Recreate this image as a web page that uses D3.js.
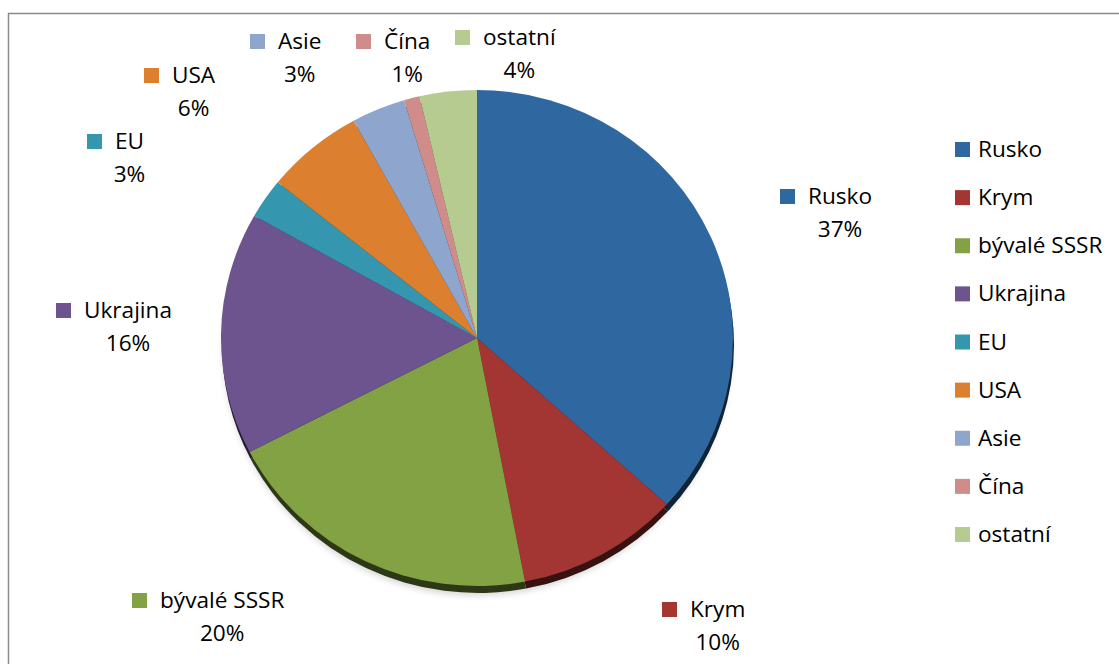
<!DOCTYPE html>
<html><head><meta charset="utf-8">
<script src="https://cdn.jsdelivr.net/npm/d3@7"></script>
<style>body{margin:0;background:#fff}</style>
</head><body><svg id="chart" width="1119" height="664"></svg>
<script>
const categories = ["Rusko","Krym","bývalé SSSR","Ukrajina","EU","USA","Asie","Čína","ostatní"];
const values = [36.7,10.3,20.4,15.8,2.6,6.2,3.4,1.0,3.6];
const colors = ["#2F68A0","#A33533","#83A244","#6D548E","#3497AF","#DC7F2F","#8EA6CE","#D08B8B","#B5CB8F"];
// layout of data labels: left x of the name text, centre y of the first line
const labelLayout = [[808,196],[690,609],[160,600],[84,310],[115,141],[172,75],[278,41],[384,41],[483,37]];

const svg = d3.select("#chart");
const W = 1119, H = 664;
const font = "'Open Sans', 'Noto Sans', sans-serif";
const fs = 22.6;

// chart frame
svg.append("rect").attr("x",8.5).attr("y",13.5).attr("width",W+20).attr("height",H+20)
  .attr("fill","#fff").attr("stroke","#8a8a8a").attr("stroke-width",1.5);

const cx = 477, cy = 338, R = 256, ky = 248/256, depth = 7;
const pie = d3.pie().sort(null).value(d => d);
const arcs = pie(values);
const arc = d3.arc().innerRadius(0).outerRadius(R);

// soft shadow
const defs = svg.append("defs");
defs.append("filter").attr("id","blur").attr("x","-10%").attr("y","-10%").attr("width","120%").attr("height","120%")
  .append("feGaussianBlur").attr("stdDeviation",3);
svg.append("ellipse").attr("cx",cx).attr("cy",cy+depth+3).attr("rx",R-2).attr("ry",R*ky)
  .attr("fill","#000").attr("opacity",0.15).attr("filter","url(#blur)");

// depth (side of 3D pie)
const gDepth = svg.append("g").attr("transform",`translate(${cx+1},${cy+depth}) scale(1,${ky})`);
gDepth.selectAll("path").data(arcs).join("path")
  .attr("d", arc)
  .attr("fill", (d,i) => d3.color(colors[i]).darker(3).formatHex());

// top face
const gTop = svg.append("g").attr("transform",`translate(${cx},${cy}) scale(1,${ky})`);
gTop.selectAll("path").data(arcs).join("path")
  .attr("d", arc)
  .attr("fill", (d,i) => colors[i]);

// data labels
const pct = d3.format(".0%");
const lab = svg.append("g").attr("font-family",font).attr("font-size",fs).attr("fill","#000");
categories.forEach((c,i) => {
  const [tx, ty] = labelLayout[i];
  lab.append("rect").attr("x",tx-28).attr("y",ty-7).attr("width",15).attr("height",15).attr("fill",colors[i]);
  const t = lab.append("text").attr("x",tx).attr("y",ty+8).text(c);
  const w = t.node().getComputedTextLength();
  lab.append("text").attr("x",tx + w/2).attr("y",ty+8+33).attr("text-anchor","middle")
    .text(pct(Math.round(values[i])/100));
});

// legend
const leg = svg.append("g").attr("font-family",font).attr("font-size",fs).attr("fill","#000");
const ly = d3.scalePoint().domain(categories).range([149,534]);
categories.forEach((c,i) => {
  const y = ly(c);
  leg.append("rect").attr("x",955).attr("y",y-7).attr("width",15).attr("height",15).attr("fill",colors[i]);
  leg.append("text").attr("x",978).attr("y",y+8).text(c);
});
</script></body></html>
